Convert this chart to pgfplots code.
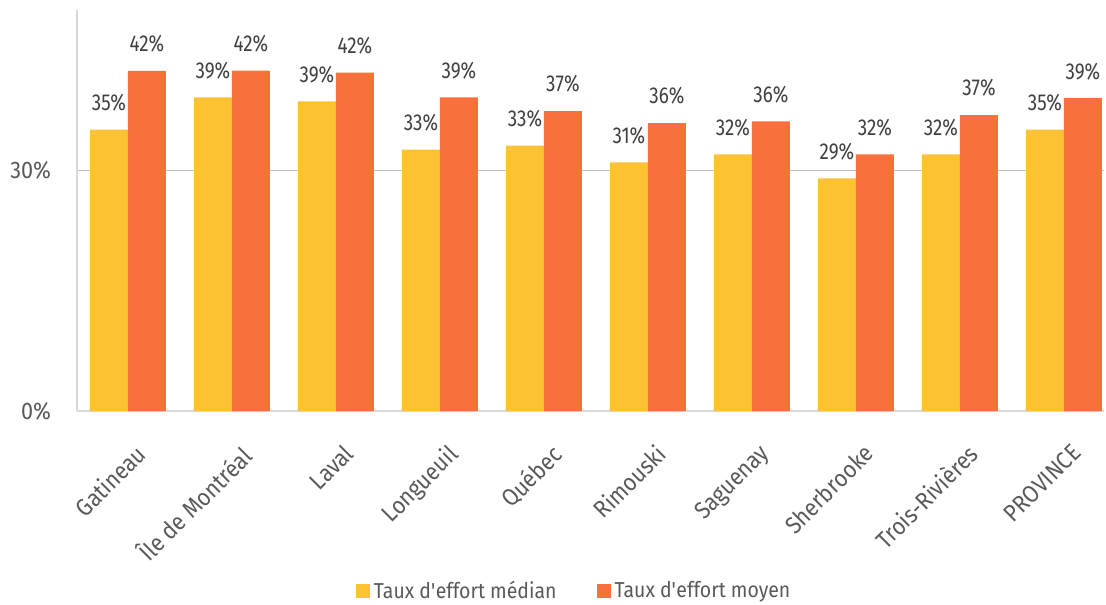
\documentclass[border=0pt]{standalone}
\usepackage{fontspec}
\setmainfont[FakeStretch=0.9]{Fira Sans}
\newfontfamily\labfont[FakeStretch=0.82]{Fira Sans}
\usepackage{pgfplots}
\pgfplotsset{compat=1.18}
\definecolor{cyel}{HTML}{FDC232}
\definecolor{corg}{HTML}{F8703C}
\definecolor{txt}{HTML}{404040}
\definecolor{tickc}{HTML}{595959}
\begin{document}
\begin{tikzpicture}
\useasboundingbox (-38.5pt,-96.5pt) rectangle (514.5pt,205.5pt);
\begin{axis}[
  scale only axis, width=513.5pt, height=200.5pt,
  ybar=0pt, bar width=19pt,
  xmin=-0.49, xmax=9.385, ymin=0, ymax=50,
  xtick={0,...,9},
  xticklabels={Gatineau,Île de Montréal,Laval,Longueuil,Québec,Rimouski,Saguenay,Sherbrooke,Trois-Rivières,PROVINCE},
  ytick={0,30}, yticklabels={0\%,30\%},
  ymajorgrids, grid style={draw=black!25, line width=0.7pt},
  axis x line*=bottom, axis y line*=left,
  axis line style={-, draw=black!15, line width=0.9pt},
  major tick length=0pt,
  xticklabel style={rotate=45, anchor=north east, font=\fontsize{12}{12}\selectfont, text=tickc, xshift=-5.5pt, yshift=-10pt},
  yticklabel style={font=\fontsize{12}{12}\selectfont, text=tickc, xshift=-9.5pt},
  nodes near coords={\labfont\fontsize{11.5}{12}\selectfont\pgfmathprintnumber[fixed,precision=0,assume math mode=true]{\pgfplotspointmeta}\%},
  nodes near coords style={text=txt, anchor=south, inner sep=0pt, yshift=9pt},
  legend style={at={(0.485,-0.449)}, anchor=center, legend columns=2, draw=none, fill=none,
    font=\fontsize{10.8}{12}\selectfont, text=tickc,
    /tikz/every even column/.append style={column sep=18pt}},
]
\addplot[fill=cyel, draw=none, legend image code/.code={\fill[cyel] (0pt,-3.5pt) rectangle (7pt,3.5pt);}]
  coordinates {(0,35.1) (1,39.1) (2,38.6) (3,32.6) (4,33.1) (5,31.0) (6,32.0) (7,29.0) (8,32.0) (9,35.1)};
\addplot[fill=corg, draw=none, legend image code/.code={\fill[corg] (0pt,-3.5pt) rectangle (7pt,3.5pt);}]
  coordinates {(0,42.4) (1,42.45) (2,42.2) (3,39.1) (4,37.4) (5,35.9) (6,36.1) (7,32.0) (8,36.9) (9,39.0)};
\legend{Taux d\textquotesingle effort médian, Taux d\textquotesingle effort moyen}
\end{axis}
\end{tikzpicture}
\end{document}
